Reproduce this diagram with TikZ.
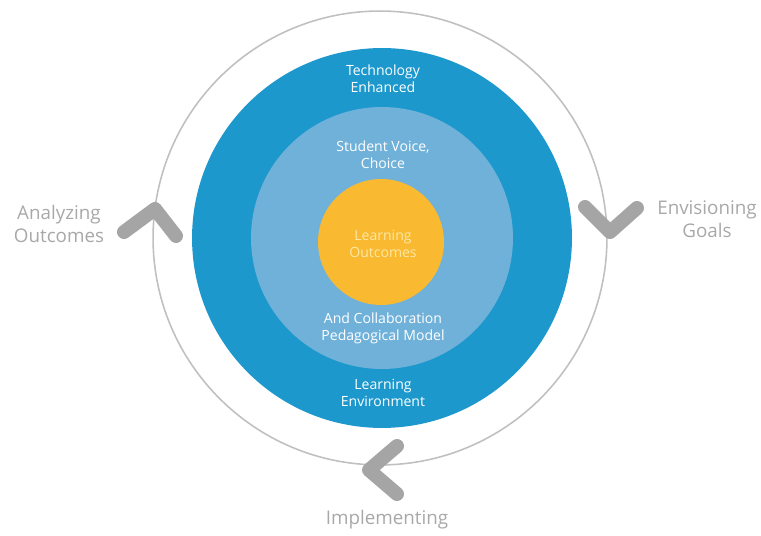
\documentclass[tikz,border=0pt]{standalone}
\usepackage{fontspec}
\setmainfont{Open Sans}
\usepackage{tikz}
\usetikzlibrary{positioning}
\definecolor{ringcol}{RGB}{28,152,204}
\definecolor{pedcol}{RGB}{112,177,218}
\definecolor{outcol}{RGB}{249,185,48}
\definecolor{outtxt}{RGB}{253,232,165}
\definecolor{cyccol}{RGB}{192,192,192}
\definecolor{chevcol}{RGB}{165,165,165}
\definecolor{labcol}{RGB}{168,168,168}
\tikzset{
  disc/.style   ={circle, fill=#1, inner sep=0pt},
  intxt/.style  ={text=#1, align=center, font=\fontsize{8}{9.7}\selectfont},
  steptxt/.style={text=labcol, align=center, font=\fontsize{10.7}{13}\selectfont},
  chev/.style   ={draw=chevcol, line width=0.28cm, line cap=round, line join=round},
}

\begin{document}
\begin{tikzpicture}[x=0.02cm, y=-0.02cm]
\useasboundingbox (0,0) rectangle (761,536);

%% Cycle ring
\node[circle, draw=cyccol, line width=0.9pt, minimum size=9.08cm, inner sep=0pt] (cycle) at (380,238) {};

%% Nested discs
\node[disc=ringcol, minimum size=7.6cm] (env) at (382,238) {};
\node[disc=pedcol, minimum size=5.24cm] (ped) at (382,238) {};
\node[disc=outcol, minimum size=2.52cm] (lo)  at (381,242) {};

%% Disc labels
\node[intxt=white] (tech)   at (383,79)  {Technology\\Enhanced};
\node[intxt=white] (voice)  at (383,155) {Student Voice,\\Choice};
\node[intxt=outtxt] (lotxt) at (383,244) {Learning\\Outcomes};
\node[intxt=white] (collab) at (383,328) {And Collaboration\\Pedagogical Model};
\node[intxt=white] (envtxt) at (383,393) {Learning\\Environment};

%% Cycle steps
\node[steptxt] (analyze) at (59,224)  {Analyzing\\Outcomes};
\node[steptxt] (envision) at (707,219) {Envisioning\\Goals};
\node[steptxt] (impl)    at (387,520) {Implementing};

%% Chevrons on the ring
\draw[chev] (124,232) -- (155,209) -- (176,236);
\draw[chev] (585,207) -- (610,232) -- (637,208);
\draw[chev] (397,446) -- (369,470) -- (397,494);

\end{tikzpicture}
\end{document}
